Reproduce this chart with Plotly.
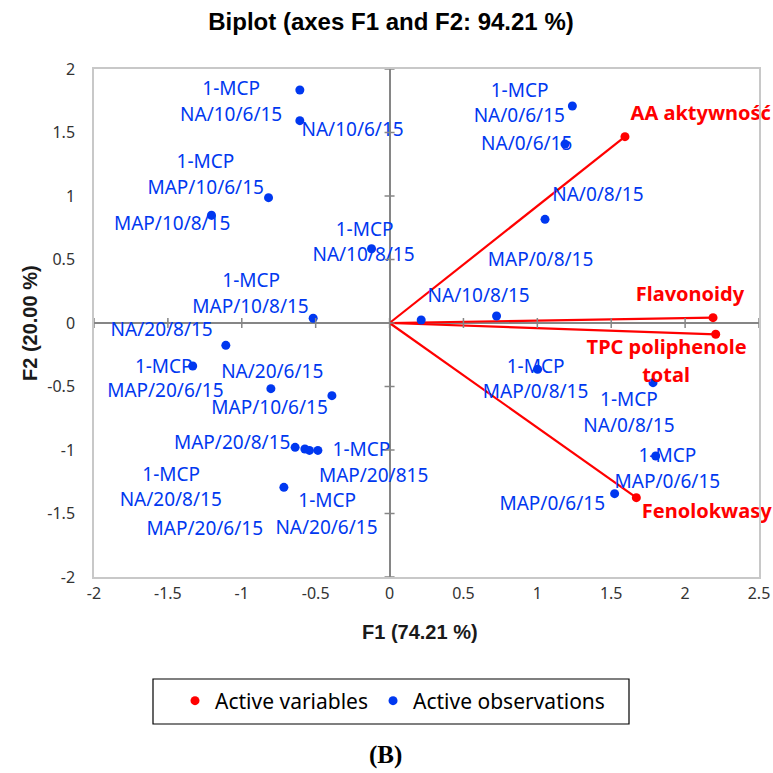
import plotly.graph_objects as go

# ---------------- data ----------------
var_names = ["AA aktywność", "Flavonoidy", "TPC poliphenole total", "Fenolokwasy"]
var_f1 = [1.593, 2.189, 2.207, 1.670]
var_f2 = [1.467, 0.042, -0.089, -1.375]

obs_f1 = [-0.607, -0.607, -0.819, -1.205, -0.122, -0.517,
          1.237, 1.187, 1.052, 0.724, 0.214,
          -1.108, -1.332, -0.803, -0.390, -0.639, -0.573, -0.542, -0.485, -0.715,
          1.002, 1.783, 1.801, 1.523]
obs_f2 = [1.835, 1.593, 0.987, 0.848, 0.585, 0.037,
          1.709, 1.409, 0.816, 0.055, 0.024,
          -0.176, -0.339, -0.517, -0.572, -0.979, -0.992, -1.003, -1.003, -1.294,
          -0.365, -0.470, -1.047, -1.344]

obs_label_text = ["1-MCP", "NA/10/6/15", "NA/10/6/15", "1-MCP", "MAP/10/6/15", "MAP/10/8/15",
                  "1-MCP", "NA/10/8/15", "1-MCP", "MAP/10/8/15", "NA/20/8/15",
                  "1-MCP", "NA/0/6/15", "NA/0/6/15", "NA/0/8/15", "MAP/0/8/15", "NA/10/8/15",
                  "1-MCP", "MAP/0/8/15", "1-MCP", "NA/0/8/15", "1-MCP", "MAP/0/6/15", "MAP/0/6/15",
                  "1-MCP", "MAP/20/6/15", "NA/20/6/15", "MAP/10/6/15", "MAP/20/8/15",
                  "1-MCP", "MAP/20/815", "1-MCP", "NA/20/8/15", "MAP/20/6/15",
                  "1-MCP", "NA/20/6/15"]
obs_label_x = [-1.072, -1.072, -0.250, -1.246, -1.244, -1.471,
               -0.169, -0.176, -0.936, -0.941, -1.542,
               0.880, 0.878, 0.928, 1.410, 1.022, 0.603,
               0.988, 0.988, 1.620, 1.620, 1.880, 1.880, 1.101,
               -1.528, -1.517, -0.794, -0.812, -1.065,
               -0.190, -0.108, -1.478, -1.481, -1.250,
               -0.422, -0.427]
obs_label_y = [1.835, 1.630, 1.512, 1.257, 1.053, 0.772,
               0.724, 0.528, 0.317, 0.116, -0.063,
               1.817, 1.620, 1.402, 0.995, 0.488, 0.202,
               -0.357, -0.554, -0.619, -0.824, -1.060, -1.262, -1.433,
               -0.357, -0.549, -0.396, -0.680, -0.953,
               -1.008, -1.213, -1.205, -1.407, -1.635,
               -1.415, -1.625]

var_label_text = ["AA aktywność", "Flavonoidy", "TPC poliphenole", "total", "Fenolokwasy"]
var_label_x = [2.106, 2.033, 1.875, 1.871, 2.146]
var_label_y = [1.638, 0.213, -0.207, -0.428, -1.494]

x_ticks = [-2, -1.5, -1, -0.5, 0, 0.5, 1, 1.5, 2, 2.5]
x_ticktext = ["-2", "-1.5", "-1", "-0.5", "0", "0.5", "1", "1.5", "2", "2.5"]
y_ticks = [-2, -1.5, -1, -0.5, 0, 0.5, 1, 1.5, 2]
y_ticktext = ["-2", "-1.5", "-1", "-0.5", "0", "0.5", "1", "1.5", "2"]

# ---------------- style ----------------
RED = "#ff0000"
BLUE = "#0038f0"
LBL_FONT = "Noto Sans"

fig = go.Figure()

# vectors
vx, vy = [], []
for a, b in zip(var_f1, var_f2):
    vx += [0, a, None]
    vy += [0, b, None]
fig.add_trace(go.Scatter(x=vx, y=vy, mode="lines", line=dict(color=RED, width=2.2),
                         showlegend=False, hoverinfo="skip"))
fig.add_trace(go.Scatter(x=var_f1, y=var_f2, mode="markers", name="Active variables",
                         text=var_names, marker=dict(color=RED, size=9)))
fig.add_trace(go.Scatter(x=obs_f1, y=obs_f2, mode="markers", name="Active observations",
                         marker=dict(color=BLUE, size=9)))
fig.add_trace(go.Scatter(x=obs_label_x, y=obs_label_y, mode="text", text=obs_label_text,
                         textposition="middle center", cliponaxis=False,
                         textfont=dict(family=LBL_FONT, size=19, color=BLUE),
                         showlegend=False, hoverinfo="skip"))
fig.add_trace(go.Scatter(x=var_label_x, y=var_label_y, mode="text", text=var_label_text,
                         textposition="middle center", cliponaxis=False,
                         textfont=dict(family=LBL_FONT, size=20, color=RED, weight="bold"),
                         showlegend=False, hoverinfo="skip"))

shapes = []
# tick marks crossing the zero axes
for t in x_ticks:
    shapes.append(dict(type="line", xref="x", yref="y", ysizemode="pixel", yanchor=0,
                       x0=t, x1=t, y0=-5, y1=5, line=dict(color="#868686", width=1.5)))
for t in y_ticks:
    shapes.append(dict(type="line", xref="x", yref="y", xsizemode="pixel", xanchor=0,
                       y0=t, y1=t, x0=-5, x1=5, line=dict(color="#868686", width=1.5)))
# legend box
shapes.append(dict(type="rect", xref="paper", yref="paper",
                   x0=(153 - 94) / 665, x1=(629 - 94) / 665,
                   y0=(577 - 679) / 508, y1=(577 - 724) / 508,
                   line=dict(color="black", width=1.2), fillcolor="rgba(0,0,0,0)"))

annotations = [
    dict(text="<b>F1 (74.21 %)</b>", xref="paper", yref="paper",
         x=(420 - 94) / 665, y=(577 - 632) / 508, showarrow=False,
         font=dict(family="Liberation Sans", size=20, color="#1a1a1a"),
         xanchor="center", yanchor="middle"),
    dict(text="<b>F2 (20.00 %)</b>", xref="paper", yref="paper",
         x=(30 - 94) / 665, y=(577 - 323) / 508, showarrow=False, textangle=-90,
         font=dict(family="Liberation Sans", size=20, color="#1a1a1a"),
         xanchor="center", yanchor="middle"),
    dict(text="<b>(B)</b>", xref="paper", yref="paper",
         x=(385 - 94) / 665, y=(577 - 755) / 508, showarrow=False,
         font=dict(family="Liberation Serif", size=25, color="black"),
         xanchor="center", yanchor="middle"),
]

fig.update_layout(
    width=773, height=773,
    margin=dict(l=94, r=14, t=69, b=196, autoexpand=False),
    paper_bgcolor="white", plot_bgcolor="white",
    title=dict(text="<b>Biplot (axes F1 and F2: 94.21 %)</b>",
               x=391 / 773, y=1 - 22 / 773, xanchor="center", yanchor="middle",
               font=dict(family="Liberation Sans", size=24, color="black")),
    xaxis=dict(range=[-2, 2.5], tickvals=x_ticks, ticktext=x_ticktext,
               showgrid=False, zeroline=True, zerolinecolor="#868686", zerolinewidth=2,
               showline=True, mirror=True, linecolor="#c8c8c8", linewidth=1.5,
               ticks="", ticklabelstandoff=1,
               tickfont=dict(family=LBL_FONT, size=16, color="#333333")),
    yaxis=dict(range=[-2, 2], tickvals=y_ticks, ticktext=y_ticktext,
               showgrid=False, zeroline=True, zerolinecolor="#868686", zerolinewidth=2,
               showline=True, mirror=True, linecolor="#c8c8c8", linewidth=1.5,
               ticks="", ticklabelstandoff=14,
               tickfont=dict(family=LBL_FONT, size=16, color="#333333")),
    legend=dict(orientation="h", xanchor="left", x=(175 - 94) / 665,
                yanchor="middle", y=(577 - 701) / 508,
                font=dict(family=LBL_FONT, size=21, color="black"),
                bgcolor="rgba(0,0,0,0)", itemwidth=30),
    shapes=shapes,
    annotations=annotations,
    showlegend=True,
)

fig.write_html("out.html")
